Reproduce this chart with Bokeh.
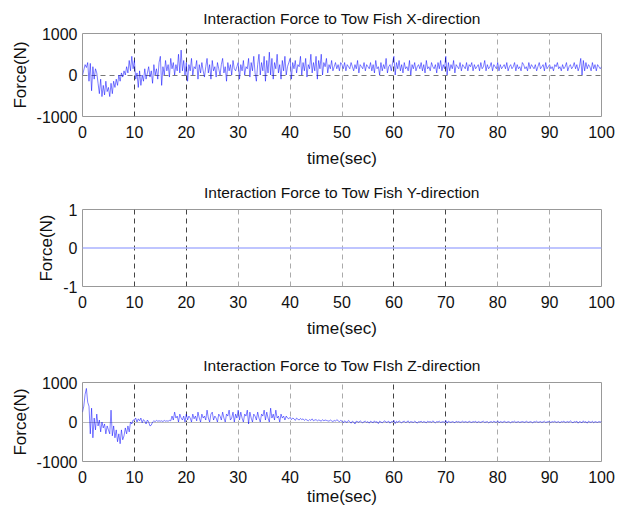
import numpy as np
from bokeh.plotting import figure
from bokeh.layouts import column
from bokeh.models import Range1d, FixedTicker, Grid, PrintfTickFormatter
from bokeh.embed import file_html
from bokeh.resources import INLINE

# ---------------- data ----------------
dt = 0.25
fx = [
    # 0-5
    0, 120, 250, 180, 300, -150, 280, -380, 200, -100, 150, 50, -200, -450, -100, -520, -250, -480, -150, -400,
    # 5-10
    -300, -520, -200, -450, -150, -300, -100, -250, 0, -150, 50, -50, 100, 0, 200, 50, 350, 100, 450, 150,
    # 10-15
    350, -100, 50, -300, 100, -250, 0, -150, 150, -100, 50, 200, -50, 100, -200, 250, 0, 150, -100, 300,
    # 15-20
    450, -250, 200, 0, 350, 100, 250, -50, 400, 150, 300, 0, 250, 100, 500, 50, 600, 100, 350, 0,
    # 20-25
    300, -150, 250, 100, 400, 0, 200, 150, 350, -100, 250, 50, 300, 100, -50, 200, 400, 50, 250, -100,
    # 25-30
    350, 100, 200, -50, 300, 150, 0, 250, 400, 50, 200, -150, 300, 100, 250, 0, 350, 150, 100, 200,
    # 30-35
    300, -100, 250, 100, 350, 0, 200, 150, 400, -50, 300, 100, 450, 50, -150, 250, 500, 0, 300, 100,
    # 35-40
    450, -150, 350, 50, 550, 0, 400, -100, 300, 150, 500, 50, 250, -100, 350, 100, 450, 0, 200, 300,
    # 40-45
    400, -100, 300, 150, 350, 50, 250, 200, 450, 0, 300, 100, 400, -50, 250, 150, 500, 50, 300, 100,
    # 45-50
    450, -100, 350, 150, 500, 0, 300, 200, 400, 50, 250, 150, 350, 100, 200, 300, 150, 250, 100, 300,
    # 50-55
    250, 150, 300, 100, 250, 200, 150, 300, 200, 100, 250, 150, 350, 50, 250, 200, 150, 300, 100, 250,
    # 55-60
    200, 150, 300, 100, 250, 50, 350, 150, 200, 0, 300, 100, 250, 150, 400, 50, 200, 250, 100, 300,
    # 60-65
    450, 0, 300, 150, 350, 100, 250, 50, 300, 150, 200, 100, 350, 0, 250, 150, 300, 100, 200, 250,
    # 65-70
    150, 300, 100, 250, 50, 350, 150, 200, 100, 300, 200, 150, 250, 50, 300, 150, 350, 100, 250, 150,
    # 70-75
    450, 0, 300, 100, 250, 150, 350, 50, 250, 200, 150, 300, 100, 250, 200, 150, 300, 100, 250, 200,
    # 75-80
    300, 100, 250, 150, 200, 250, 100, 300, 150, 200, 350, 100, 250, 150, 200, 300, 100, 250, 200, 150,
    # 80-85
    300, 100, 250, 150, 200, 250, 150, 300, 100, 200, 250, 150, 200, 300, 100, 250, 150, 200, 100, 300,
    # 85-90
    250, 150, 200, 100, 300, 150, 250, 200, 150, 250, 100, 200, 300, 150, 200, 250, 100, 300, 150, 200,
    # 90-95
    250, 150, 200, 100, 250, 200, 300, 150, 200, 100, 250, 150, 200, 300, 100, 200, 250, 150, 200, 300,
    # 95-100
    150, 250, 100, 200, 400, 0, 350, 100, 300, 150, 250, 200, 100, 300, 150, 250, 100, 250, 200, 150, 200,
]

fz = [
    # 0-5
    250, 400, 700, 850, 500, 400, -300, 350, -400, 100, -200, 200, -100, 50, -250, 0, -150, -50, -300, -100,
    # 5-10
    -200, -300, 300, -350, -100, -400, -200, -500, -300, -550, -200, -450, -350, -150, -300, -100, -250, 0, -50, 50,
    # 10-15
    50, 100, 0, 80, 30, 100, -20, 60, 20, -50, 50, 0, -100, -80, 0, 30, 10, 40, 20, 30,
    # 15-20
    20, 30, 10, 40, 20, 30, 20, 40, 30, 150, 50, 250, 100, 150, 0, 200, 100, 50, 150, 0,
    # 20-25
    200, 50, 150, 100, 0, 200, 80, 150, 30, 250, 100, 0, 200, 100, 150, 50, 300, 100, 0, 200,
    # 25-30
    250, 50, 150, 100, 0, 200, 150, 50, 250, 100, 0, 200, 150, 300, 50, 100, 250, 0, 200, 100,
    # 30-35
    300, 50, 250, 100, 0, 200, 150, 300, -50, 250, 100, 0, 200, 150, 50, 250, 100, 0, 200, 150,
    # 35-40
    300, 50, 250, 100, 0, 350, 100, 200, 50, 300, 100, 150, 0, 200, 100, 150, 50, 150, 100, 80,
    # 40-45
    120, 60, 100, 80, 40, 100, 70, 50, 90, 60, 80, 40, 70, 50, 30, 60, 40, 80, 30, 50,
    # 45-50
    60, 30, 50, 40, 20, 60, 30, 50, 40, 30, 20, 50, 30, 10, 40, 20, 60, 30, 10, 40,
    # 50-55
    20, -20, 30, 0, -10, 40, 10, -30, 20, 0, -50, 20, 10, -10, 30, 0, -20, 10, 20, -10,
    # 55-60
    10, -30, 20, 0, -20, 30, -10, 10, -40, 20, 0, -20, 10, 30, -10, 0, 20, -30, 10, 0,
    # 60-65
    40, -40, 20, -10, 30, 0, -20, 10, 20, -10, 0, 30, -20, 10, 0, -10, 20, 0, -30, 10,
    # 65-70
    0, 20, -10, 10, 0, -20, 20, 0, 10, -10, 30, 0, -20, 10, 0, 20, -10, 0, 10, -20,
    # 70-75
    40, -30, 20, 0, -10, 10, 0, -20, 20, 0, 10, -10, 0, 20, -10, 10, 0, -10, 20, 0,
    # 75-80
    -10, 10, 0, 20, -20, 10, 0, -10, 10, 20, -10, 0, 10, -20, 0, 10, -10, 20, 0, -10,
    # 80-85
    30, -20, 10, 0, -10, 20, 0, -10, 10, 0, -20, 10, 0, 20, -10, 0, 10, -10, 0, 10,
    # 85-90
    0, -10, 20, 0, -10, 10, 0, -20, 10, 0, 20, -10, 0, 10, -10, 0, 20, -10, 0, 10,
    # 90-95
    0, -10, 10, 0, 20, -10, 0, 10, -20, 10, 0, 20, -10, 0, 10, -10, 30, 0, -20, 10,
    # 95-100
    0, 20, -30, 10, 0, -20, 30, -10, 10, -30, 20, 0, -10, 20, -20, 10, 0, -10, 10, 0, 10,
]

t = np.arange(len(fx)) * dt
y_time = [0, 100]
y_force = [0, 0]

x_ticks = [0, 10, 20, 30, 40, 50, 60, 70, 80, 90, 100]
dark_grid = [10, 20, 60, 70]
light_grid = [30, 40, 50, 80, 90]

titles = ["Interaction Force to Tow Fish X-direction",
          "Interaction Force to Tow Fish Y-direction",
          "Interaction Force to Tow FIsh Z-direction"]

FONT = "Liberation Sans"


def make_fig(height, top, bottom, ylim, yticks, title, lab_stand=8, title_stand=18):
    p = figure(width=622, height=height, output_backend="svg", toolbar_location=None,
               x_range=Range1d(0, 100), y_range=Range1d(*ylim),
               min_border_left=82, min_border_right=21,
               min_border_top=top, min_border_bottom=bottom)
    p.title.text = title
    p.title.align = "center"
    p.title.text_font = FONT
    p.title.text_font_size = "15.5px"
    p.title.text_font_style = "normal"
    p.title.text_color = "#111111"
    p.title.standoff = title_stand
    p.xaxis.ticker = FixedTicker(ticks=x_ticks)
    p.yaxis.ticker = FixedTicker(ticks=yticks)
    p.yaxis.formatter = PrintfTickFormatter(format="%d")
    for ax in (p.xaxis[0], p.yaxis[0]):
        ax.axis_line_color = None
        ax.major_tick_in = 0
        ax.major_tick_out = 0
        ax.major_tick_line_color = None
        ax.minor_tick_line_color = None
        ax.major_label_text_font = FONT
        ax.major_label_text_font_size = "16px"
        ax.major_label_text_color = "#111111"
        ax.axis_label_text_font = FONT
        ax.axis_label_text_font_size = "17px"
        ax.axis_label_text_font_style = "normal"
        ax.axis_label_text_color = "#111111"
    p.xaxis.axis_label = "time(sec)"
    p.xaxis.axis_label_standoff = lab_stand
    p.xaxis.major_label_standoff = 9
    p.yaxis.axis_label = "Force(N)"
    p.yaxis.axis_label_standoff = 4
    p.yaxis.major_label_standoff = 5
    p.xgrid.visible = False
    p.ygrid.visible = False
    p.outline_line_color = "#999999"
    p.outline_line_width = 1
    p.background_fill_color = "white"
    p.border_fill_color = "white"
    g1 = Grid(dimension=0, ticker=FixedTicker(ticks=dark_grid),
              grid_line_color="#444444", grid_line_dash="5 4", grid_line_width=1)
    g2 = Grid(dimension=0, ticker=FixedTicker(ticks=light_grid),
              grid_line_color="#aaaaaa", grid_line_dash="5 4", grid_line_width=1)
    p.add_layout(g1)
    p.add_layout(g2)
    return p


p1 = make_fig(170, 33, 54, (-1000, 1000), [-1000, 0, 1000], titles[0], title_stand=14)
p1.add_layout(Grid(dimension=1, ticker=FixedTicker(ticks=[0]),
                   grid_line_color="#777777", grid_line_dash="5 4", grid_line_width=1))
p1.line(t, fx, line_color="#0000ff", line_width=0.6, line_alpha=0.85)

p2 = make_fig(170, 39, 51, (-1, 1), [-1, 0, 1], titles[1])
p2.line(y_time, y_force, line_color="#aab2ff", line_width=1.5)

p3 = make_fig(168, 42, 45, (-1000, 1000), [-1000, 0, 1000], titles[2], lab_stand=1)
p3.add_layout(Grid(dimension=1, ticker=FixedTicker(ticks=[0]),
                   grid_line_color="#bbbbbb", grid_line_width=1))
p3.line(t, fz, line_color="#0000ff", line_width=0.6, line_alpha=0.85)

layout = column(p1, p2, p3, spacing=0)
open("out.html", "w").write(file_html(layout, INLINE))
